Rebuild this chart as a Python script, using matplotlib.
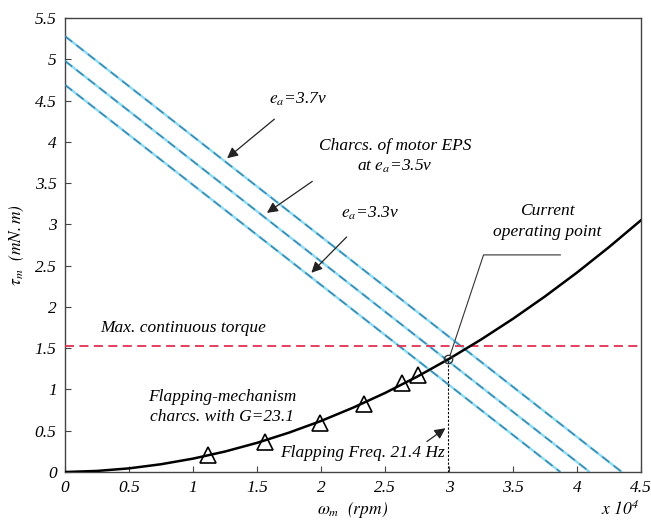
import matplotlib
matplotlib.use("Agg")
import matplotlib.pyplot as plt
import numpy as np

# motor EPS lines (speed x1e4 rpm at zero torque, torque at zero speed)
eps_labels = ["3.3v", "3.5v", "3.7v"]
eps_stall = [4.69, 4.98, 5.28]
eps_noload = [3.87, 4.10, 4.35]

# flapping mechanism load curve
load_w = [0, 0.25, 0.5, 0.75, 1.0, 1.25, 1.5, 1.75, 2.0, 2.25, 2.5, 2.75,
          3.0, 3.25, 3.5, 3.75, 4.0, 4.25, 4.5]
load_tau = [0, 0.013, 0.044, 0.094, 0.162, 0.248, 0.353, 0.477, 0.618, 0.779,
            0.957, 1.154, 1.370, 1.604, 1.856, 2.127, 2.416, 2.724, 3.05]

# measured points (triangles)
meas_w = [1.12, 1.56, 1.99, 2.34, 2.63, 2.76]
meas_tau = [0.21, 0.36, 0.59, 0.82, 1.08, 1.18]

op_w, op_tau = 2.99, 1.37
max_torque = 1.53

plt.rcParams['font.family'] = ['Liberation Serif', 'DejaVu Serif']
plt.rcParams['font.style'] = 'italic'
plt.rcParams['mathtext.fontset'] = 'stix'

fig = plt.figure(figsize=(6.51, 5.23), dpi=100)
ax = fig.add_axes([0.0998, 0.0975, 0.8848, 0.8681])

for s, n in zip(eps_stall, eps_noload):
    ax.plot([0, n], [s, 0], color='#8fdcf2', lw=1.8, solid_capstyle='butt', zorder=2)
    ax.plot([0, n], [s, 0], color='#3a88b0', lw=1.1, dashes=(6, 3.5), zorder=3)

ax.axhline(max_torque, color='#e2304e', lw=1.3, dashes=(5, 3), zorder=3)

ax.plot(load_w, load_tau, color='black', lw=1.8, zorder=4)
ax.plot(meas_w, meas_tau, linestyle='none', marker='^', ms=12, mfc='none',
        mec='black', mew=1.2, zorder=5)
ax.plot([op_w, op_w], [0, op_tau], color='black', lw=0.8, dashes=(2, 1.5), zorder=4)
ax.plot(op_w, op_tau, marker='o', ms=6, mfc='none', mec='#333333', mew=1.0, zorder=6)

fs = 12.5
arrow = dict(arrowstyle='-|>', color='#222222', lw=0.9, mutation_scale=16)

ax.annotate(r'$e_a$=3.7v', xy=(1.25, 3.78), xytext=(1.82, 4.51), fontsize=fs,
            ha='center', va='center', arrowprops=dict(arrow, shrinkA=9))
ax.text(2.58, 3.95, 'Charcs. of motor EPS', fontsize=fs, ha='center', va='center')
ax.text(2.58, 3.70, r'at $e_a$=3.5v', fontsize=fs, ha='center', va='center')
ax.annotate('', xy=(1.56, 3.12), xytext=(1.95, 3.54), arrowprops=arrow)
ax.annotate(r'$e_a$=3.3v', xy=(1.91, 2.39), xytext=(2.38, 3.13), fontsize=fs,
            ha='center', va='center', arrowprops=dict(arrow, shrinkA=12))

ax.text(3.77, 3.16, 'Current', fontsize=fs, ha='center', va='center')
ax.text(3.77, 2.91, 'operating point', fontsize=fs, ha='center', va='center')
ax.plot([op_w + 0.02, 3.27, 3.87], [op_tau + 0.05, 2.63, 2.63], color='#333333', lw=0.8)

ax.text(0.92, 1.75, 'Max. continuous torque', fontsize=fs, ha='center', va='center')
ax.text(1.23, 0.91, 'Flapping-mechanism', fontsize=fs, ha='center', va='center')
ax.text(1.23, 0.67, 'charcs. with G=23.1', fontsize=fs, ha='center', va='center')
ax.text(2.97, 0.23, 'Flapping Freq. 21.4 Hz', fontsize=fs, ha='right', va='center')
ax.annotate('', xy=(2.99, 0.55), xytext=(2.81, 0.35), arrowprops=arrow)

ax.set_xlim(0, 4.5)
ax.set_ylim(0, 5.5)
xt = np.arange(0, 4.51, 0.5)
yt = np.arange(0, 5.51, 0.5)
ax.set_xticks(xt)
ax.set_xticklabels([f'{v:g}' for v in xt])
ax.set_yticks(yt)
ax.set_yticklabels([f'{v:g}' for v in yt])
ax.tick_params(direction='in', length=4, labelsize=fs, color='#444444',
               top=False, right=False, pad=6)
for sp in ax.spines.values():
    sp.set_color('#444444')
    sp.set_linewidth(1.0)

ax.set_xlabel(r'$\omega_m$  $(rpm)$', fontsize=fs, labelpad=2)
ax.set_ylabel(r'$\tau_m$  $(mN.m)$', fontsize=fs, labelpad=6)
fig.text(0.982, 0.008, r'$x\ 10^4$', fontsize=fs, ha='right', va='bottom')

fig.savefig('out.png', dpi=100)
